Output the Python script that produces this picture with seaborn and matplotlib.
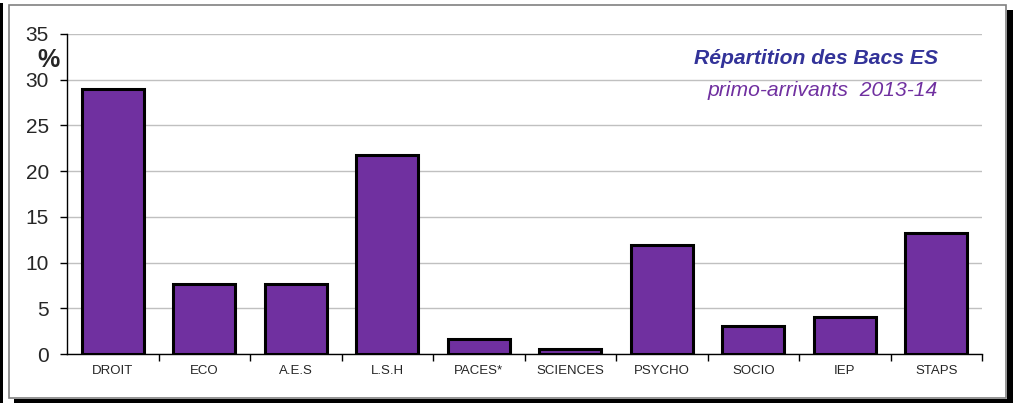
import matplotlib
matplotlib.use("Agg")
import matplotlib.pyplot as plt
import seaborn as sns
import pandas as pd
from matplotlib.patches import Rectangle

categories = ["DROIT", "ECO", "A.E.S", "L.S.H", "PACES*", "SCIENCES", "PSYCHO", "SOCIO", "IEP", "STAPS"]
values = [29.0, 7.7, 7.7, 21.8, 1.6, 0.5, 11.9, 3.1, 4.0, 13.2]
y_ticks = [0, 5, 10, 15, 20, 25, 30, 35]
title = "Répartition des Bacs ES"
subtitle = "primo-arrivants  2013-14"

df = pd.DataFrame({"cat": categories, "val": values})

sns.set_style("white")
plt.rcParams['font.family'] = ['Liberation Sans', 'DejaVu Sans']

W, H = 1017, 403
fig = plt.figure(figsize=(W / 100, H / 100), dpi=100)
fig.patch.set_facecolor("white")

def fx(x): return x / W
def fy(y): return 1 - y / H

# frame decorations
fig.patches.append(Rectangle((fx(0), fy(403)), fx(3), (400) / H, transform=fig.transFigure,
                             facecolor="black", edgecolor="none", zorder=0))
fig.patches.append(Rectangle((fx(1007), fy(403)), fx(6), (393) / H, transform=fig.transFigure,
                             facecolor="black", edgecolor="none", zorder=0))
fig.patches.append(Rectangle((fx(14), fy(403)), fx(999), 4 / H, transform=fig.transFigure,
                             facecolor="black", edgecolor="none", zorder=0))
fig.patches.append(Rectangle((fx(8.5), fy(397.5)), fx(997.5), 393 / H, transform=fig.transFigure,
                             facecolor="white", edgecolor="#808080", linewidth=1.2, zorder=1))

ax = fig.add_axes([fx(67), fy(354), fx(982 - 67), (354 - 34) / H])
ax.set_zorder(2)
ax.patch.set_alpha(0)

sns.barplot(data=df, x="cat", y="val", ax=ax, color="#7030A0", saturation=1,
            width=0.68, edgecolor="black", linewidth=2.2, zorder=3)

ax.set_ylim(0, 35)
ax.set_xlim(-0.5, len(categories) - 0.5)
ax.set_yticks(y_ticks)
ax.set_yticklabels([str(t) for t in y_ticks], fontsize=15)
ax.yaxis.grid(True, color="#c0c0c0", linewidth=1)
ax.set_axisbelow(True)
for s in ["top", "right"]:
    ax.spines[s].set_visible(False)
ax.spines["left"].set_color("black")
ax.spines["bottom"].set_color("black")
ax.spines["left"].set_linewidth(1)
ax.spines["bottom"].set_linewidth(1)
ax.set_xlabel("")
ax.set_ylabel("")
ax.tick_params(axis="y", length=5, width=1, color="black", pad=8, left=True)
ax.set_xticks([i - 0.5 for i in range(1, len(categories) + 1)], minor=True)
ax.tick_params(axis="x", which="major", length=0, pad=8, labelsize=9.5)
ax.tick_params(axis="x", which="minor", length=5, width=1, color="black", bottom=True)
ax.set_xticks(range(len(categories)))
ax.set_xticklabels(categories, fontsize=9.5)

fig.text(fx(49), fy(60), "%", fontsize=18, fontweight="bold", ha="center", va="center")
fig.text(fx(938), fy(59), title, fontsize=15.2, fontweight="bold", fontstyle="italic",
         color="#333399", ha="right", va="center")
fig.text(fx(938), fy(90), subtitle, fontsize=15.2, fontstyle="italic",
         color="#7030A0", ha="right", va="center")

fig.savefig("out.png", dpi=100, facecolor="white")
